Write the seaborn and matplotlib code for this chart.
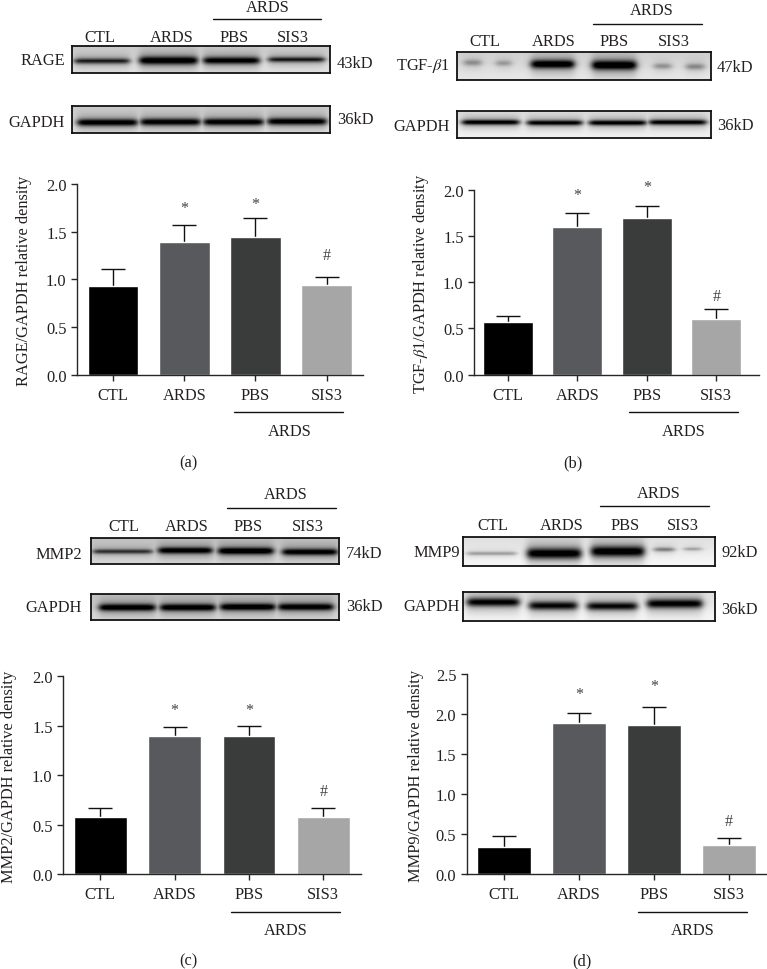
import numpy as np
import pandas as pd
import matplotlib
matplotlib.use('Agg')
import matplotlib.pyplot as plt
import seaborn as sns

# Bar chart values
groups = ['CTL', 'ARDS', 'PBS', 'SIS3']
bar_colors = ['#000000', '#58595d', '#3a3b3b', '#a6a6a6']

rage_means = [0.93, 1.39, 1.44, 0.945]
rage_tops = [1.11, 1.57, 1.64, 1.02]
tgf_means = [0.57, 1.60, 1.695, 0.60]
tgf_tops = [0.63, 1.75, 1.82, 0.71]
mmp2_means = [0.58, 1.40, 1.40, 0.58]
mmp2_tops = [0.665, 1.485, 1.495, 0.665]
mmp9_means = [0.34, 1.885, 1.865, 0.36]
mmp9_tops = [0.47, 2.01, 2.095, 0.45]

# Band darkness per lane on the blots (0 white, 1 black)
rage_bands = [0.72, 0.95, 0.9, 0.75]
rage_gapdh = [0.9, 0.88, 0.88, 0.88]
tgf_bands = [0.3, 0.26, 0.95, 0.98, 0.3, 0.34]
tgf_gapdh = [0.92, 0.9, 0.92, 0.9]
mmp2_bands = [0.6, 0.85, 0.9, 0.85, 0.12, 0.15]
mmp2_gapdh = [0.88, 0.88, 0.88, 0.85]
mmp9_bands = [0.3, 0.98, 0.98, 0.42, 0.28]
mmp9_gapdh = [0.9, 0.88, 0.88, 0.92]

W, H = 767, 970
TEXT = '#231f20'
FS = 11.8

sns.set_style('ticks')
plt.rcParams['font.family'] = ['Liberation Serif', 'DejaVu Serif']
plt.rcParams['mathtext.fontset'] = 'stix'
plt.rcParams['axes.linewidth'] = 1.0

fig = plt.figure(figsize=(W / 100, H / 100), dpi=100)


def px_axes(x0, x1, y0, y1):
    # y0 is the top edge, y1 the bottom, both in picture pixels
    return fig.add_axes([x0 / W, 1 - y1 / H, (x1 - x0) / W, (y1 - y0) / H])


def label(x, y, s, ha='center', rotation=0, size=FS):
    fig.text(x / W, 1 - y / H, s, ha=ha, va='center', rotation=rotation,
             fontsize=size, color=TEXT)


def rule(x0, x1, y):
    fig.add_artist(plt.Line2D([x0 / W, x1 / W], [1 - y / H, 1 - y / H], color='#111111', lw=1.0))


def bar_panel(box, ticks, ymax, yticks, width_px, means, tops, marks, ylabel, ylabel_pos):
    x0, x1, ytop, ybot = box
    ax = px_axes(x0, x1, ytop, ybot)
    dx = (ticks[-1] - ticks[0]) / 3
    df = pd.DataFrame({'group': groups, 'value': means})
    sns.barplot(data=df, x='group', y='value', hue='group', order=groups, hue_order=groups,
                palette=bar_colors, width=width_px / dx, errorbar=None, legend=False,
                saturation=1, ax=ax, zorder=2)
    pos = np.arange(len(groups))
    ax.vlines(pos, means, tops, color='#111111', lw=1.0, zorder=1)
    ax.hlines(tops, pos - 12 / dx, pos + 12 / dx, color='#111111', lw=1.0, zorder=3)
    ax.set_xlim((x0 - ticks[0]) / dx, (x1 - ticks[0]) / dx)
    ax.set_ylim(0, ymax)
    ax.set_yticks(yticks)
    ax.set_yticklabels([f'{t:.1f}' for t in yticks], fontsize=FS, color=TEXT)
    ax.tick_params(axis='y', length=4.5, width=1.0, pad=3)
    ax.tick_params(axis='x', length=4.0, width=1.0, pad=5, labelsize=FS, labelcolor=TEXT)
    ax.set_xlabel('')
    ax.set_ylabel('')
    ax.patch.set_alpha(0)
    sns.despine(ax=ax)
    for i, sym, y in marks:
        ax.text(i, y, sym, ha='center', va='center', fontsize=11.5, color='#444444')
    label(ylabel_pos[0], ylabel_pos[1], ylabel, rotation=90)
    return ax


def blot(box, densities, lanes, background=0.2):
    # lanes: (left px, right px, centre y px, thickness px), one per density
    x0, x1, ytop, ybot = box
    ax = px_axes(x0, x1, ytop, ybot)
    xs = np.arange(x0, x1, 0.5)
    ys = np.arange(ytop, ybot, 0.5)
    gx, gy = np.meshgrid(xs, ys)
    img = np.full(gx.shape, background, dtype=float)
    img += 0.04 * np.cos((gy - ytop) / (ybot - ytop) * np.pi)
    dark = np.zeros(gx.shape)
    for d, (a, b, yc, t) in zip(densities, lanes):
        across = 0.5 * (np.tanh((gx - a) / 4) - np.tanh((gx - b) / 4))
        core = np.exp(-((gy - yc) / (t * 1.15)) ** 2)
        halo = np.exp(-((gy - yc) / (t * 3)) ** 2)
        dark = np.maximum(dark, d * across * (0.78 * core + 0.26 * halo))
    img = np.clip(img + dark, 0, 1)
    sns.heatmap(img, cmap='gray_r', vmin=0, vmax=1, cbar=False,
                xticklabels=False, yticklabels=False, ax=ax)
    for s in ax.spines.values():
        s.set_visible(True)
        s.set_color('#111111')
        s.set_linewidth(1.3)


# (a) RAGE
label(268, 8, 'ARDS')
rule(212.7, 321, 20)
for x, s in zip([99.7, 172, 233.7, 293], groups):
    label(x, 38, s)
label(65, 61, 'RAGE', ha='right')
label(65, 123, 'GAPDH', ha='right')
label(337, 63.5, '43kD', ha='left')
label(337, 120, '36kD', ha='left')
blot((72, 330, 46.7, 74.3), rage_bands,
     [(74, 129, 62, 2.6), (139, 197, 61.5, 3.6), (203, 259, 61.5, 3.2), (268, 324, 60.5, 2.4)],
     background=0.16)
blot((72, 330, 107, 134.3), rage_gapdh,
     [(77, 137, 123.5, 3.0), (140, 200, 123, 3.0), (203, 263, 123, 3.0), (267, 326, 122.5, 3.0)],
     background=0.16)
bar_panel((77, 362.7, 185, 375.7), [113, 184.4, 255.7, 326.7], 2.0, [0, 0.5, 1.0, 1.5, 2.0], 50.7,
          rage_means, rage_tops, [(1, '*', 1.75), (2, '*', 1.79), (3, '#', 1.255)],
          'RAGE/GAPDH relative density', (24, 281))
rule(234.3, 343, 413)
label(289.3, 431.7, 'ARDS')
label(188, 463.7, '(a)')

# (b) TGF-beta1
label(651.7, 11, 'ARDS')
rule(593, 701.7, 24.7)
for x, s in zip([485, 554, 613.7, 674], groups):
    label(x, 42, s)
label(450, 66, r'TGF-$\beta$1', ha='right')
label(450, 127, 'GAPDH', ha='right')
label(717, 68, '47kD', ha='left')
label(717, 126, '36kD', ha='left')
blot((457.3, 710.7, 53.3, 81), tgf_bands,
     [(464, 481, 63.5, 2.6), (496, 511, 64, 2.4), (531, 574, 65, 3.6), (592, 636, 66, 4.0),
      (654, 671, 67, 2.4), (686, 704, 67.5, 2.6)], background=0.14)
blot((457.3, 710.7, 111.7, 139), tgf_gapdh,
     [(462, 519, 123, 2.2), (527, 582, 123.5, 2.2), (589, 646, 123.5, 2.2), (649, 706, 123, 2.2)],
     background=0.1)
bar_panel((474, 759, 190.7, 375.7), [508, 577.3, 647, 716.3], 2.0, [0, 0.5, 1.0, 1.5, 2.0], 50,
          tgf_means, tgf_tops, [(1, '*', 1.94), (2, '*', 2.025), (3, '#', 0.854)],
          r'TGF-$\beta$1/GAPDH relative density', (421, 284))
rule(629.3, 738, 413)
label(684, 431.7, 'ARDS')
label(572.7, 463.7, '(b)')

# (c) MMP2
label(286, 495, 'ARDS')
rule(227, 335.7, 509.3)
for x, s in zip([124, 187, 248, 308], groups):
    label(x, 527, s)
label(82, 555, 'MMP2', ha='right')
label(82, 608, 'GAPDH', ha='right')
label(346, 554, '74kD', ha='left')
label(346, 607, '36kD', ha='left')
blot((90.7, 338.7, 539, 565.3), mmp2_bands,
     [(93, 152, 552.5, 2.0), (158, 212, 551.5, 2.8), (218, 273, 552, 3.0), (282, 337, 553, 2.8),
      (160, 212, 558.5, 1.5), (220, 272, 558.5, 1.5)], background=0.2)
blot((90.7, 338.7, 595, 621.3), mmp2_gapdh,
     [(99, 155, 608.5, 3.0), (160, 215, 608.5, 3.0), (220, 275, 608, 3.0), (278, 333, 608, 3.0)],
     background=0.2)
bar_panel((63, 360.7, 677.3, 875), [100.3, 174.7, 249, 323.3], 2.0, [0, 0.5, 1.0, 1.5, 2.0], 52.7,
          mmp2_means, mmp2_tops, [(1, '*', 1.66), (2, '*', 1.66), (3, '#', 0.84)],
          'MMP2/GAPDH relative density', (9.5, 776.7))
rule(230.7, 340, 912.7)
label(285.7, 931, 'ARDS')
label(188, 961, '(c)')

# (d) MMP9
label(659, 494, 'ARDS')
rule(600, 708.7, 507.3)
for x, s in zip([492.7, 562, 625, 682.7], groups):
    label(x, 526, s)
label(460, 553, 'MMP9', ha='right')
label(460, 607, 'GAPDH', ha='right')
label(721, 553, '92kD', ha='left')
label(721, 610, '36kD', ha='left')
blot((463.3, 714.7, 538, 566.7), mmp9_bands,
     [(467, 516, 554.5, 1.6), (527, 581, 554.5, 4.6), (591, 644, 552.5, 4.6),
      (654, 674, 550.5, 1.8), (684, 701, 550, 1.4)], background=0.08)
blot((463.3, 714.7, 593.3, 622), mmp9_gapdh,
     [(467, 519, 603, 3.6), (529, 577, 606.5, 3.6), (587, 637, 607, 3.4), (647, 702, 604.5, 3.8)],
     background=0.08)
bar_panel((466.7, 766.7, 675.3, 875), [504, 579.3, 654, 729], 2.5, [0, 0.5, 1.0, 1.5, 2.0, 2.5], 53.3,
          mmp9_means, mmp9_tops, [(1, '*', 2.25), (2, '*', 2.357), (3, '#', 0.66)],
          'MMP9/GAPDH relative density', (416, 775.8))
rule(638, 746.7, 912.7)
label(692.7, 931, 'ARDS')
label(581.7, 961, '(d)')

fig.savefig('out.png', dpi=100, facecolor='white')
